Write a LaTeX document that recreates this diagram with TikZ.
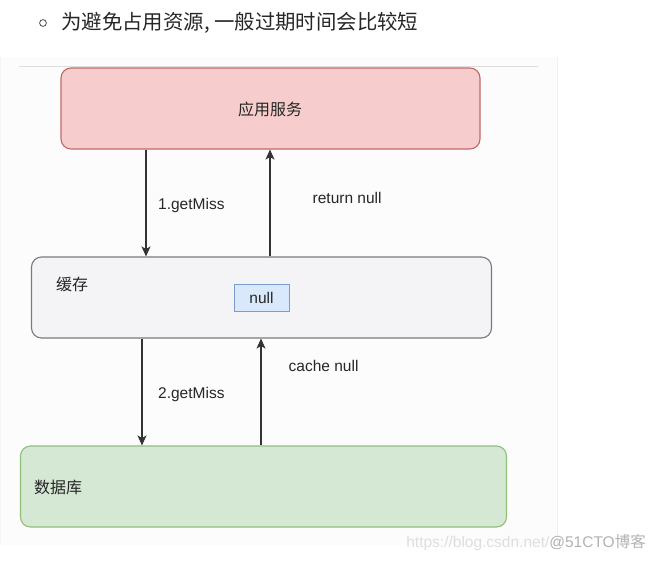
\documentclass[tikz,border=0pt]{standalone}
\usepackage{fontspec}
\setmainfont{Liberation Sans}
\newfontfamily\cjk{Noto Sans CJK SC}
\usetikzlibrary{arrows.meta}

\definecolor{appfill}{HTML}{F6CDCC}
\definecolor{appline}{HTML}{C06A66}
\definecolor{cachefill}{HTML}{F4F3F5}
\definecolor{cacheline}{HTML}{7A7A7A}
\definecolor{nullfill}{HTML}{DAE8FC}
\definecolor{nullline}{HTML}{7C9CCB}
\definecolor{dbfill}{HTML}{D5E8D4}
\definecolor{dbline}{HTML}{92BE7C}

\begin{document}
\begin{tikzpicture}[x=1pt,y=-1pt,
    box/.style={draw, rounded corners=10pt, line width=1.1pt, minimum height=81pt, inner sep=0pt},
    lbl/.style={inner sep=0pt, text=black!85, font=\fontsize{15.5}{18}\selectfont},
    cjklbl/.style={inner sep=0pt, text=black!85, font=\cjk\fontsize{16}{19}\selectfont},
    flow/.style={draw=black!80, line width=1.1pt, -{Stealth[length=10pt,width=9pt,inset=2.5pt]}}]
    \useasboundingbox (0,0) rectangle (653,560);

    % Bullet line
    \draw[black!70, line width=0.8pt] (43,23) circle (3.4pt);
    \node[anchor=west, inner sep=0pt, text=black!85, font=\cjk\fontsize{20.4}{24}\selectfont] (head) at (61,22.5) {为避免占用资源, 一般过期时间会比较短};

    % Panel
    \fill[black!1] (0,57) rectangle (557,545);
    \draw[black!13, line width=1pt] (19,66.5) -- (538,66.5);
    \draw[black!6] (557,57) -- (557,545);
    \draw[black!4] (0.5,57) -- (0.5,545);

    % Boxes
    \node[box, draw=appline, fill=appfill, minimum width=419pt] (app) at (270.5,108.5) {};
    \node[box, draw=cacheline, fill=cachefill, minimum width=460pt] (cache) at (261.5,297.5) {};
    \node[box, draw=dbline, fill=dbfill, minimum width=486pt] (db) at (263.5,486.5) {};
    \node[draw=nullline, fill=nullfill, line width=1pt, minimum width=55pt, minimum height=27pt, inner sep=0pt] (null) at (261.5,297.5) {};

    % Box Labels
    \node[cjklbl] (appname) at (270,109.5) {应用服务};
    \node[cjklbl, anchor=west] (cachename) at (56,284.5) {缓存};
    \node[cjklbl, anchor=west] (dbname) at (34,487.5) {数据库};
    \node[lbl, anchor=base] (nullname) at (261.5,303) {null};

    % Arrows
    \draw[flow] (app.south -| 146,0) -- (cache.north -| 146,0);
    \draw[flow] (cache.north -| 270,0) -- (app.south -| 270,0);
    \draw[flow] (cache.south -| 142,0) -- (db.north -| 142,0);
    \draw[flow] (db.north -| 261,0) -- (cache.south -| 261,0);

    % Arrow Labels
    \node[lbl, anchor=base west] (miss1) at (158,209.5) {1.getMiss};
    \node[lbl, anchor=base west] (retnull) at (312.5,203) {return null};
    \node[lbl, anchor=base west] (miss2) at (158,398) {2.getMiss};
    \node[lbl, anchor=base west] (cachenull) at (288.5,371.5) {cache null};

    % Watermark
    \node[anchor=base east, inner sep=0pt, font=\fontsize{15.5}{18}\selectfont] (mark) at (646,547)
        {\textcolor{black!13}{https://blog.csdn.net/}\textcolor{black!30}{@51CTO{\cjk 博客}}};
\end{tikzpicture}
\end{document}
